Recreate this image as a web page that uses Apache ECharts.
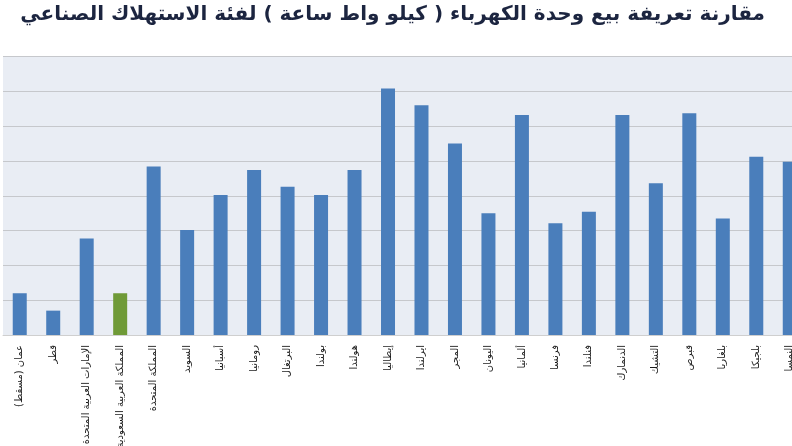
<!DOCTYPE html>
<html>
<head>
<meta charset="utf-8">
<script src="https://cdn.jsdelivr.net/npm/echarts@6/dist/echarts.min.js"></script>
<style>
html,body{margin:0;padding:0;background:#fff;}
#chart{width:792px;height:446px;}
</style>
</head>
<body>
<div id="chart" dir="rtl"></div>
<script>
const titleText = 'مقارنة تعريفة بيع وحدة الكهرباء ( كيلو واط ساعة ) لفئة الاستهلاك الصناعي';
const categories = [
  'عمان (مسقط)', 'قطر', 'الإمارات العربية المتحدة', 'المملكة العربية السعودية',
  'المملكة المتحدة', 'السويد', 'أسبانيا', 'رومانيا', 'البرتغال', 'بولندا',
  'هولندا', 'إيطاليا', 'ايرلندا', 'المجر', 'اليونان', 'ألمانيا', 'فرنسا',
  'فنلندا', 'الدنمارك', 'التشيك', 'قبرص', 'بلغاريا', 'بلجيكا', 'النمسا'
];
const values = [
  12, 7, 27.7, 12,
  48.4, 30.2, 40.2, 47.4, 42.6, 40.2,
  47.4, 70.8, 66, 55, 35, 63.2, 32.1,
  35.4, 63.2, 43.6, 63.7, 33.5, 51.2, 49.8
];
const highlightCategory = 'المملكة العربية السعودية';
const yMin = 0, yMax = 80, yStep = 10;

const chart = echarts.init(document.getElementById('chart'), null, {renderer: 'canvas'});
chart.setOption({
  backgroundColor: '#ffffff',
  animation: false,
  title: {
    text: titleText,
    right: 27,
    top: 5,
    padding: 0,
    textStyle: {fontFamily: 'DejaVu Sans', fontSize: 20, fontWeight: 'bold', color: '#1c2540'}
  },
  grid: {
    left: 3, right: -14.5, top: 56.6, bottom: 111,
    outerBoundsMode: 'none',
    containLabel: false,
    show: true, backgroundColor: '#e9edf4', borderWidth: 0
  },
  xAxis: {
    type: 'category',
    data: categories,
    axisLine: {show: true, lineStyle: {color: '#cfcfcf', width: 1}},
    axisTick: {show: false},
    axisLabel: {
      interval: 0, rotate: 90, margin: 10,
      fontFamily: 'DejaVu Sans', fontSize: 10, color: '#1a1a1a'
    }
  },
  yAxis: {
    type: 'value', min: yMin, max: yMax, interval: yStep,
    axisLabel: {show: false},
    axisLine: {show: false},
    axisTick: {show: false},
    splitLine: {show: true, lineStyle: {color: '#c6c8cc', width: 1.2}}
  },
  series: [{
    type: 'bar',
    barWidth: 14,
    data: values.map((v, i) => ({
      value: v,
      itemStyle: {color: categories[i] === highlightCategory ? '#6f9a37' : '#4a7ebb'}
    }))
  }]
});
</script>
</body>
</html>
